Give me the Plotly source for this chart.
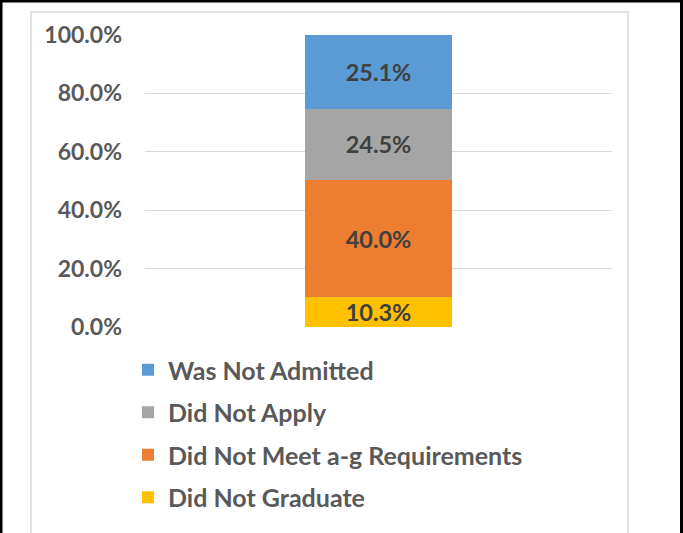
import plotly.graph_objects as go

# categories (bottom to top of the stack)
series_names = ["Did Not Graduate", "Did Not Meet a-g Requirements", "Did Not Apply", "Was Not Admitted"]
series_values = [10.3, 40.0, 24.5, 25.1]
series_colors = ["#FFC000", "#ED7D31", "#A5A5A5", "#5B9BD5"]
category = [""]
tick_vals = [0, 20, 40, 60, 80, 100]
tick_text = ["0.0%", "20.0%", "40.0%", "60.0%", "80.0%", "100.0%"]

W, H = 683, 533
ml, mr, mt, mb = 145, 71, 35, 206
pw, ph = W - ml - mr, H - mt - mb

fig = go.Figure()
n = len(series_names)
for i, (name, val, col) in enumerate(zip(series_names, series_values, series_colors)):
    fig.add_trace(go.Bar(
        x=category, y=[val], name=name, legendgroup=name, legendrank=n - i,
        marker=dict(color=col, line=dict(width=0)),
        texttemplate="%{y:.1f}%", textposition="inside", insidetextanchor="middle",
        constraintext="none",
        textfont=dict(family="Lato", size=23.5, color="#404040", weight="bold"),
        width=0.315,
    ))

def px_x(x):
    return (x - ml) / pw

def px_y(y):
    return (H - mb - y) / ph

fig.update_layout(
    width=W, height=H,
    margin=dict(l=ml, r=mr, t=mt, b=mb, autoexpand=False),
    barmode="stack",
    paper_bgcolor="white", plot_bgcolor="white",
    font=dict(family="Lato", color="#595959"),
    xaxis=dict(showticklabels=False, showgrid=False, zeroline=False, showline=False),
    yaxis=dict(range=[0, 100], tickvals=tick_vals, ticktext=tick_text,
               tickfont=dict(family="Lato", size=23, color="#595959", weight="bold"),
               showgrid=True, gridcolor="#D9D9D9", gridwidth=1, zeroline=False,
               showline=False, ticks="", ticklabelstandoff=22),
    legend=dict(x=px_x(128), y=px_y(347), xanchor="left", yanchor="top",
                traceorder="grouped", tracegroupgap=7,
                font=dict(family="Lato", size=25, color="#595959", weight="bold"),
                bgcolor="rgba(0,0,0,0)"),
    showlegend=True,
    shapes=[
        # inner light frame
        dict(type="rect", xref="paper", yref="paper",
             x0=px_x(31), x1=px_x(628), y0=px_y(560), y1=px_y(12),
             line=dict(color="#D9D9D9", width=1.5), layer="below"),
        # outer black frame
        dict(type="rect", xref="paper", yref="paper",
             x0=px_x(1), x1=px_x(681.5), y0=px_y(560), y1=px_y(1),
             line=dict(color="black", width=3), layer="above"),
    ],
)

fig.write_html("out.html", config={"displayModeBar": False},
               post_script="document.body.style.margin='0';")
